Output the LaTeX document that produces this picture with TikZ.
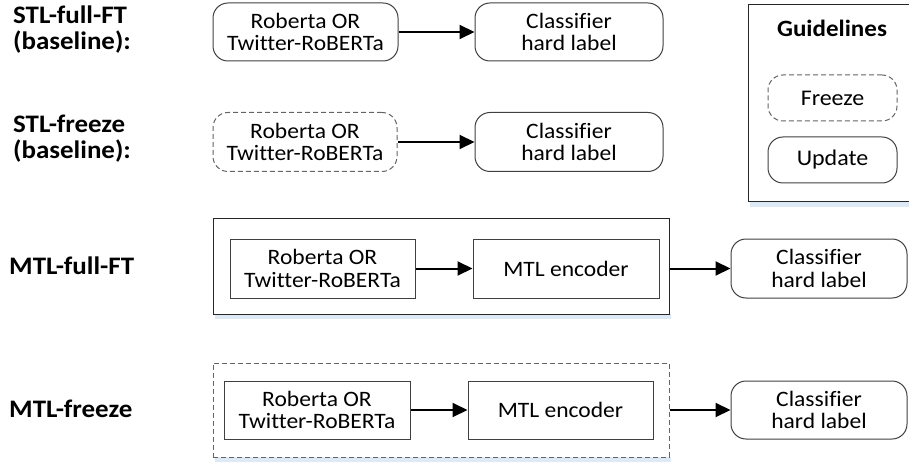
\documentclass[tikz,border=0pt]{standalone}
\usepackage{fontspec}
\setmainfont[Ligatures={NoCommon}, FakeStretch=1.07]{Carlito}
\usetikzlibrary{arrows.meta}
\definecolor{boxline}{RGB}{64,64,64}
\definecolor{dashline}{RGB}{100,100,100}
\definecolor{shadowc}{RGB}{222,233,246}
\tikzset{
  lbl/.style={anchor=west, align=left, font=\fontsize{25.2}{26}\selectfont\bfseries, inner sep=0pt},
  body/.style={align=center, font=\fontsize{22}{22.5}\selectfont, inner sep=0pt},
  rbox/.style={body, draw=boxline, line width=1pt, rounded corners=15pt, fill=white},
  dbox/.style={rbox, draw=dashline, dash pattern=on 5pt off 3pt},
  sbox/.style={body, draw=boxline, line width=1pt, fill=white},
  outer/.style={draw=black!85, line width=1pt, fill=white, inner sep=0pt},
  outerd/.style={outer, draw=dashline, dash pattern=on 5pt off 3pt},
  legtxt/.style={font=\fontsize{22.4}{24}\selectfont},
  legbox/.style={draw=black!85, line width=1pt},
  arr/.style={line width=2pt, -{Triangle[length=15pt,width=14pt]}}
}
\begin{document}
\begin{tikzpicture}[x=1pt,y=-1pt]
\useasboundingbox (0,0) rectangle (909,462);

% Guidelines legend (its right side runs off the picture)
\fill[shadowc] (750,202) rectangle (909,207);
\draw[legbox] (909,5) -- (748,5) -- (748,202) -- (909,202);
\node[font=\fontsize{23.4}{26}\selectfont\bfseries, anchor=base, inner sep=0pt] (legt) at (832,37) {Guidelines};
\node[dbox, legtxt, minimum width=129pt, minimum height=46pt] (fr) at (832.5,98) {Freeze};
\node[rbox, legtxt, minimum width=129pt, minimum height=46pt] (up) at (832.5,160) {Update};

% Row 1
\node[lbl] (l1) at (13,30) {STL-full-FT\\(baseline):};
\node[rbox, minimum width=185pt, minimum height=58pt] (r1) at (305.5,32) {Roberta OR\\Twitter-RoBERTa};
\node[rbox, minimum width=188pt, minimum height=58pt] (c1) at (569,32) {Classifier\\hard label};
\draw[arr] (r1) -- (c1);

% Row 2
\node[lbl] (l2) at (13,139) {STL-freeze\\(baseline):};
\node[dbox, minimum width=184pt, minimum height=59pt] (r2) at (305,142) {Roberta OR\\Twitter-RoBERTa};
\node[rbox, minimum width=188pt, minimum height=59pt] (c2) at (569,142) {Classifier\\hard label};
\draw[arr] (r2) -- (c2);

% Row 3
\node[lbl] (l3) at (9,266) {MTL-full-FT};
\fill[shadowc] (215,314) rectangle (671,319);
\node[outer, minimum width=456pt, minimum height=95pt] (o3) at (441,266.5) {};
\node[sbox, minimum width=185pt, minimum height=59pt] (r3) at (322.5,268.5) {Roberta OR\\Twitter-RoBERTa};
\node[sbox, minimum width=186pt, minimum height=59pt] (m3) at (566,268.5) {MTL encoder};
\node[rbox, minimum width=176pt, minimum height=59pt] (c3) at (819,268.5) {Classifier\\hard label};
\draw[arr] (r3) -- (m3);
\draw[arr] (o3.east |- c3) -- (c3);

% Row 4
\node[lbl] (l4) at (9,409) {MTL-freeze};
\fill[shadowc] (215,457) rectangle (671,462);
\node[outerd, minimum width=456pt, minimum height=94pt] (o4) at (441,410) {};
\node[sbox, minimum width=186pt, minimum height=58pt] (r4) at (317,410) {Roberta OR\\Twitter-RoBERTa};
\node[sbox, minimum width=185pt, minimum height=58pt] (m4) at (560.5,410) {MTL encoder};
\node[rbox, minimum width=176pt, minimum height=58pt] (c4) at (819,410) {Classifier\\hard label};
\draw[arr] (r4) -- (m4);
\draw[arr] (o4.east |- c4) -- (c4);
\end{tikzpicture}
\end{document}
